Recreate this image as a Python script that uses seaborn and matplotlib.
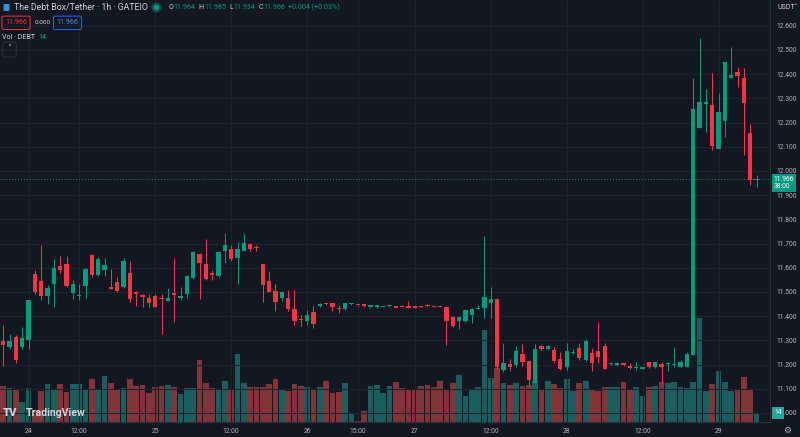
import numpy as np
import pandas as pd
import matplotlib
matplotlib.use("Agg")
import matplotlib.pyplot as plt
import seaborn as sns
from matplotlib.patches import FancyBboxPatch
from matplotlib.lines import Line2D

# ---------------- data (hourly candles, DEBT/USDT) ----------------
opens = [11.298, 11.273, 11.313, 11.274, 11.302, 11.574, 11.547, 11.482, 11.532, 11.607,
         11.614, 11.497, 11.484, 11.526, 11.653, 11.570, 11.591, 11.522, 11.540, 11.522,
         11.577, 11.499, 11.486, 11.476, 11.483, 11.476, 11.461, 11.495, 11.476, 11.490,
         11.557, 11.657, 11.617, 11.580, 11.566, 11.669, 11.678, 11.642, 11.671, 11.698,
         11.687, 11.614, 11.547, 11.504, 11.476, 11.475, 11.430, 11.386, 11.381, 11.419,
         11.443, 11.453, 11.453, 11.431, 11.428, 11.449, 11.447, 11.449, 11.440, 11.437,
         11.438, 11.441, 11.442, 11.443, 11.443, 11.442, 11.442, 11.446, 11.439, 11.440,
         11.439, 11.395, 11.381, 11.381, 11.406, 11.429, 11.435, 11.453, 11.470, 11.178,
         11.202, 11.197, 11.244, 11.213, 11.125, 11.277, 11.266, 11.260, 11.223, 11.191,
         11.247, 11.270, 11.219, 11.249, 11.257, 11.277, 11.201, 11.200, 11.205, 11.195,
         11.188, 11.183, 11.209, 11.189, 11.202, 11.204, 11.197, 11.190, 11.189, 11.240,
         12.179, 12.277, 12.273, 12.090, 12.207, 12.386, 12.409, 12.383, 12.156, 11.964]
highs = [11.364, 11.327, 11.322, 11.355, 11.468, 11.592, 11.695, 11.529, 11.636, 11.649,
         11.649, 11.550, 11.532, 11.598, 11.657, 11.643, 11.639, 11.595, 11.560, 11.640,
         11.630, 11.504, 11.490, 11.490, 11.490, 11.490, 11.515, 11.639, 11.520, 11.572,
         11.671, 11.662, 11.719, 11.590, 11.671, 11.745, 11.694, 11.708, 11.740, 11.702,
         11.693, 11.614, 11.587, 11.533, 11.504, 11.507, 11.508, 11.405, 11.426, 11.442,
         11.455, 11.456, 11.456, 11.446, 11.456, 11.456, 11.448, 11.452, 11.447, 11.447,
         11.443, 11.447, 11.443, 11.445, 11.464, 11.443, 11.444, 11.450, 11.441, 11.448,
         11.440, 11.400, 11.400, 11.430, 11.434, 11.446, 11.733, 11.519, 11.475, 11.288,
         11.222, 11.277, 11.285, 11.216, 11.285, 11.280, 11.281, 11.271, 11.250, 11.288,
         11.264, 11.288, 11.305, 11.267, 11.375, 11.288, 11.207, 11.209, 11.207, 11.205,
         11.209, 11.191, 11.212, 11.212, 11.209, 11.212, 11.271, 11.217, 11.250, 12.383,
         12.548, 12.338, 12.406, 12.324, 12.452, 12.514, 12.431, 12.424, 12.193, 11.985]
lows = [11.194, 11.263, 11.208, 11.264, 11.266, 11.490, 11.467, 11.450, 11.439, 11.577,
        11.522, 11.471, 11.467, 11.474, 11.561, 11.566, 11.567, 11.512, 11.500, 11.515,
        11.460, 11.443, 11.440, 11.438, 11.436, 11.325, 11.461, 11.377, 11.465, 11.475,
        11.554, 11.470, 11.550, 11.548, 11.560, 11.621, 11.629, 11.532, 11.671, 11.671,
        11.668, 11.460, 11.498, 11.421, 11.464, 11.421, 11.364, 11.361, 11.364, 11.353,
        11.440, 11.446, 11.421, 11.412, 11.425, 11.447, 11.444, 11.439, 11.433, 11.435,
        11.436, 11.438, 11.432, 11.437, 11.433, 11.432, 11.438, 11.438, 11.436, 11.436,
        11.281, 11.355, 11.347, 11.376, 11.373, 11.428, 11.394, 11.394, 11.180, 11.171,
        11.175, 11.191, 11.195, 11.116, 11.125, 11.262, 11.262, 11.205, 11.177, 11.176,
        11.243, 11.217, 11.216, 11.175, 11.205, 11.182, 11.197, 11.194, 11.194, 11.182,
        11.178, 11.180, 11.186, 11.185, 11.123, 11.175, 11.189, 11.189, 11.189, 11.238,
        12.179, 12.160, 12.087, 12.090, 12.142, 12.386, 12.346, 12.066, 11.942, 11.934]
closes = [11.281, 11.299, 11.219, 11.311, 11.468, 11.499, 11.485, 11.517, 11.599, 11.591,
          11.526, 11.532, 11.487, 11.595, 11.570, 11.635, 11.612, 11.512, 11.503, 11.629,
          11.471, 11.491, 11.478, 11.455, 11.439, 11.472, 11.476, 11.486, 11.482, 11.565,
          11.667, 11.621, 11.552, 11.571, 11.667, 11.694, 11.636, 11.676, 11.701, 11.678,
          11.683, 11.529, 11.499, 11.460, 11.500, 11.430, 11.381, 11.384, 11.405, 11.368,
          11.450, 11.449, 11.439, 11.429, 11.453, 11.453, 11.445, 11.442, 11.445, 11.445,
          11.442, 11.445, 11.433, 11.438, 11.434, 11.433, 11.439, 11.441, 11.437, 11.437,
          11.379, 11.361, 11.398, 11.426, 11.430, 11.434, 11.481, 11.470, 11.190, 11.205,
          11.189, 11.256, 11.209, 11.135, 11.264, 11.264, 11.277, 11.216, 11.182, 11.256,
          11.253, 11.226, 11.299, 11.205, 11.233, 11.182, 11.205, 11.207, 11.198, 11.187,
          11.190, 11.189, 11.191, 11.209, 11.189, 11.206, 11.202, 11.211, 11.244, 12.256,
          12.286, 12.286, 12.103, 12.242, 12.452, 12.397, 12.393, 12.280, 11.962, 11.966]
volumes = [54, 51, 50, 30, 51, 18, 47, 57, 48, 57, 45, 57, 57, 50, 65, 50, 69, 58, 50, 51,
           65, 54, 56, 43, 52, 54, 55, 53, 42, 51, 51, 93, 58, 51, 48, 61, 50, 102, 58, 53,
           53, 53, 57, 65, 50, 47, 57, 54, 52, 49, 52, 62, 44, 45, 58, 13, 2, 17, 54, 56,
           44, 54, 60, 51, 50, 50, 54, 56, 52, 62, 50, 59, 71, 39, 48, 53, 138, 66, 82, 59,
           56, 58, 54, 56, 62, 50, 62, 57, 51, 65, 47, 58, 62, 50, 47, 53, 53, 53, 60, 50,
           53, 39, 53, 54, 60, 58, 60, 53, 51, 60, 157, 47, 57, 77, 60, 47, 50, 68, 48, 14]

tick_pos = [4, 12, 24, 36, 48, 56, 65, 77, 89, 101, 113]
tick_labels = ["24", "12:00", "25", "12:00", "26", "15:00", "27", "12:00", "28", "12:00", "29"]
price_ticks = [11.0, 11.1, 11.2, 11.3, 11.4, 11.5, 11.6, 11.7, 11.8, 11.9,
               12.0, 12.1, 12.2, 12.3, 12.4, 12.5, 12.6]
title = "The Debt Box/Tether · 1h · GATEIO"
countdown = "38:00"

# ---------------- style ----------------
BG = "#131722"
UP = "#089981"
DOWN = "#f23645"
VOL_UP = "#26a69a"
VOL_DOWN = "#ef5350"
GRID = "#1e222d"
TXT = "#b2b5be"
LIGHT = "#d1d4dc"
BORDER = "#2a2e39"

sns.set_theme(style="dark", rc={"axes.facecolor": BG, "figure.facecolor": BG})
plt.rcParams["font.family"] = ["Roboto", "DejaVu Sans"]

n = len(opens)
df = pd.DataFrame({"idx": np.arange(n), "open": opens, "high": highs, "low": lows,
                   "close": closes, "volume": volumes})
df["dir"] = np.where(df["close"] >= df["open"], "up", "down")

W, H = 800, 437
fig = plt.figure(figsize=(W / 100, H / 100), dpi=100, facecolor=BG)
rect = [0, 15 / H, 770 / W, 422 / H]
ax_vol = fig.add_axes(rect)
ax = fig.add_axes(rect)
ax_vol.set_facecolor(BG)
ax.set_facecolor("none")

# ---------------- volume (seaborn) ----------------
sns.barplot(data=df, x="idx", y="volume", hue="dir",
            palette={"up": VOL_UP, "down": VOL_DOWN}, dodge=False, native_scale=True,
            width=0.9, saturation=1, alpha=0.5, errorbar=None, legend=False,
            ax=ax_vol, edgecolor="none", linewidth=0)
xlim = (-0.52, 121.12)
ax_vol.set_xlim(xlim)
ax_vol.set_ylim(0, 635)
ax_vol.set_xticks([])
ax_vol.set_yticks([])
ax_vol.set_xlabel("")
ax_vol.set_ylabel("")
for s in ax_vol.spines.values():
    s.set_visible(False)

# ---------------- candles ----------------
colors = np.where(df["close"] >= df["open"], UP, DOWN)
ax.vlines(df["idx"], df["low"], df["high"], colors=colors, linewidth=0.75, zorder=3)
body_low = np.minimum(df["open"], df["close"])
body_h = np.maximum(np.abs(df["close"] - df["open"]), 0.004)
ax.bar(df["idx"], body_h, bottom=body_low, width=0.68, color=colors, linewidth=0, zorder=4)

last_price = closes[-1]
ax.axhline(last_price, color=UP, linewidth=0.7, linestyle=(0, (1, 2)), zorder=2)

ax.set_xlim(xlim)
ax.set_ylim(10.9628, 12.7066)
ax.set_xticks(tick_pos)
ax.set_xticklabels(tick_labels)
ax.yaxis.tick_right()
ax.set_yticks(price_ticks)
ax.set_yticklabels([f"{v:.3f}" for v in price_ticks])
ax.tick_params(axis="x", length=0, pad=4.2, labelsize=4.9, labelcolor=TXT)
ax.tick_params(axis="y", length=0, pad=4.8, labelsize=4.9, labelcolor=TXT)
ax.grid(True, color=GRID, linewidth=0.8)
ax.set_axisbelow(True)
for k, s in ax.spines.items():
    if k in ("right", "bottom"):
        s.set_visible(True)
        s.set_color(BORDER)
        s.set_linewidth(0.8)
    else:
        s.set_visible(False)

# price label box
ax.annotate(f"{last_price:.3f}\n{countdown}", xy=(1, last_price),
            xycoords=("axes fraction", "data"), xytext=(2.6, 2.6),
            textcoords="offset points", ha="left", va="top", fontsize=4.9,
            color="white", linespacing=1.15,
            bbox=dict(boxstyle="square,pad=0.3", fc=UP, ec="none"), zorder=10)
# volume label box
ax.annotate(f"{volumes[-1]}", xy=(1, volumes[-1]), xycoords=ax_vol.get_yaxis_transform(),
            xytext=(3.2, 0), textcoords="offset points", ha="left", va="center",
            fontsize=4.9, color="white",
            bbox=dict(boxstyle="square,pad=0.35", fc=VOL_UP, ec="none"), zorder=10)


# ---------------- header ----------------
def ftext(x, y, s, **kw):
    kw.setdefault("va", "center")
    return fig.text(x / W, 1 - y / H, s, **kw)


fig.patches.append(FancyBboxPatch((3.5 / W, 1 - 11 / H), 6 / W, 7 / H,
                                  boxstyle="round,pad=0,rounding_size=0.002",
                                  transform=fig.transFigure, fc="#3a8fd8", ec="none"))
ftext(13.5, 7.5, title, color=LIGHT, fontsize=6.3)
fig.add_artist(Line2D([156 / W], [1 - 7 / H], marker="o", markersize=6.5, color=UP,
                      alpha=0.3, linestyle="none", transform=fig.transFigure))
fig.add_artist(Line2D([156 / W], [1 - 7 / H], marker="o", markersize=3.2, color=UP,
                      linestyle="none", transform=fig.transFigure))

o, h, l, c = opens[-1], highs[-1], lows[-1], closes[-1]
chg = c - closes[-2]
pct = chg / closes[-2] * 100
parts = [("O", LIGHT, 0.3), (f"{o:.3f}", UP, 3.2), ("H", LIGHT, 0.3), (f"{h:.3f}", UP, 3.2),
         ("L", LIGHT, 0.3), (f"{l:.3f}", UP, 3.2), ("C", LIGHT, 0.3), (f"{c:.3f}", UP, 3.2),
         (f"{chg:+.3f} ({pct:+.2f}%)", UP, 0)]
renderer = fig.canvas.get_renderer()
xcur = 168.5
for s, col, gap in parts:
    t = ftext(xcur, 7.5, s, color=col, fontsize=5.1)
    bb = t.get_window_extent(renderer)
    xcur = bb.x1 + gap

ftext(16, 22.8, f"{c:.3f}", color=DOWN, fontsize=5.1, ha="center",
      bbox=dict(boxstyle="round,pad=0.45,rounding_size=0.25", fc="none", ec=DOWN, lw=0.7))
ftext(35, 22.8, "0.000", color=LIGHT, fontsize=4.6)
ftext(67.5, 22.8, f"{c:.3f}", color="#5b86ff", fontsize=5.1, ha="center",
      bbox=dict(boxstyle="round,pad=0.45,rounding_size=0.25", fc="none", ec="#2962ff", lw=0.7))
ftext(2, 37.5, "Vol · DEBT", color=LIGHT, fontsize=5.1)
ftext(38, 37.5, f"{volumes[-1]}", color="#22ab94", fontsize=5.1)
ftext(9.5, 49.5, "˄", color=LIGHT, fontsize=6, ha="center",
      bbox=dict(boxstyle="round,pad=0.55,rounding_size=0.3", fc="none", ec="#363a45", lw=0.6))

ftext(777, 7.5, "USDT", color=LIGHT, fontsize=5.0)
ftext(795, 7.5, "˅", color=LIGHT, fontsize=5.0, ha="center")
ftext(787, 430.5, "⚙", color=TXT, fontsize=6.5, ha="center")

# watermark logo
ftext(3, 412.5, "TV", color=LIGHT, fontsize=8, fontweight="heavy")
ftext(26, 412.5, "TradingView", color=LIGHT, fontsize=7.6, fontweight="bold")

fig.savefig("out.png", dpi=100, facecolor=BG)
